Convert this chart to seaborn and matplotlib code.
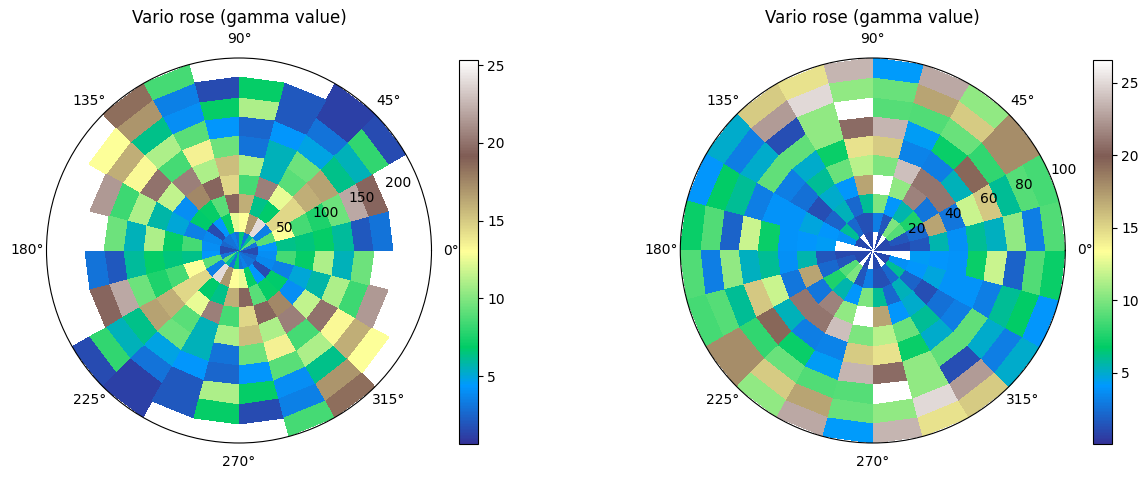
import numpy as np
import pandas as pd
import matplotlib
matplotlib.use("Agg")
import matplotlib.pyplot as plt
from matplotlib.colors import Normalize
import seaborn as sns

nan = float("nan")

# Semivariance per azimuth sector (rows, 15 degree bins from 0 to 180) and lag ring (columns, inner to outer).
gamma_left = [
    [1.5, 4.3, 6.3, 6.5, 7.0, 6.0, 2.0, 3.0, nan, nan],
    [3.0, 9.0, 13.0, 8.5, 7.5, 9.5, 22.0, 19.5, nan, nan],
    [9.0, 3.5, 14.5, 14.5, 16.0, 16.5, 6.3, 5.5, 8.0, 1.5],
    [6.0, 24.0, 6.8, 12.5, 9.0, 9.5, 4.8, 3.0, 1.2, 1.2],
    [3.0, 17.0, 6.3, 20.5, 5.5, 5.5, 4.3, 2.0, 2.0, nan],
    [6.5, 13.0, 16.0, 8.5, 11.0, 3.0, 2.5, 11.0, 7.0, nan],
    [3.0, 12.5, 19.5, 14.5, 15.5, 9.5, 4.3, 7.0, 1.5, nan],
    [3.5, 7.0, 9.0, 19.5, 11.0, 13.5, 9.0, 4.0, 3.5, 8.5],
    [3.0, 4.3, 7.0, 17.5, 20.5, 8.5, 11.0, 6.3, 17.0, 18.5],
    [3.0, 1.5, 6.8, 4.0, 11.5, 20.0, 13.2, 16.0, 13.0, nan],
    [2.5, 3.8, 3.5, 5.0, 5.8, 11.0, 8.3, 21.5, nan, nan],
    [1.5, 4.0, 8.5, 7.0, 11.0, 5.5, 9.5, nan, nan, nan],
]
gamma_right = [
    [1.0, 1.0, 1.5, 5.5, 3.8, 6.0, 5.2, 10.5, 3.0, 8.8],
    [1.0, 1.5, 2.2, 17.0, 2.7, 12.0, 15.6, 6.0, 9.0, 8.5],
    [1.0, 9.0, 7.5, 2.7, 21.0, 5.3, 19.5, 8.0, 18.0, 18.0],
    [26.6, 10.0, 5.5, 21.5, 21.0, 3.0, 7.0, 9.5, 15.5, 10.5],
    [1.0, 1.5, 4.0, 10.5, 24.0, 3.3, 4.3, 8.8, 17.0, 23.0],
    [26.6, 3.0, 10.0, 26.6, 10.0, 15.5, 23.5, 9.0, 9.5, 4.2],
    [1.0, 1.3, 6.0, 17.0, 11.5, 14.5, 20.5, 26.6, 10.5, 23.5],
    [1.0, 1.3, 2.2, 4.0, 9.5, 7.0, 10.5, 10.5, 25.0, 14.5],
    [26.6, 2.2, 5.3, 5.0, 6.0, 5.0, 9.3, 1.2, 22.5, 15.5],
    [1.0, 6.0, 2.0, 1.2, 2.5, 3.0, 9.3, 5.0, 3.0, 5.0],
    [1.0, 3.8, 4.0, 4.7, 3.9, 3.9, 3.0, 6.0, 6.8, 4.0],
    [26.6, 26.6, 4.3, 4.0, 3.9, 7.0, 12.0, 2.0, 8.8, 7.0],
]
lag_left = 24.3
lag_right = 10.0
color_limits_left = (0.63, 25.37)
color_limits_right = (0.1, 26.6)
azimuth_step = 15
plot_title = "Vario rose (gamma value)"

terrain = sns.color_palette("terrain", as_cmap=True)
FIG_W, FIG_H = 1148, 480


def box(left, top, width, height):
    return [left / FIG_W, 1 - (top + height) / FIG_H, width / FIG_W, height / FIG_H]


def draw_rose(half_table, lag, limits, polar_box, bar_box):
    # A variogram is symmetric, so the half circle repeats over 180-360 degrees.
    half = pd.DataFrame(half_table).to_numpy(dtype=float)
    table = np.vstack([half, half])
    theta = np.radians(np.arange(0, 360 + azimuth_step, azimuth_step))
    radius = lag * np.arange(half.shape[1] + 1)

    ax = fig.add_axes(box(*polar_box), projection="polar")
    mesh = ax.pcolormesh(theta, radius, table.T, cmap=terrain,
                         norm=Normalize(*limits), shading="flat")
    ax.set_rlim(0, radius[-1])
    ax.grid(False)
    ax.set_title(plot_title, fontsize=12)

    cax = fig.add_axes(box(*bar_box))
    fig.colorbar(mesh, cax=cax)
    return ax


fig = plt.figure(figsize=(FIG_W / 100, FIG_H / 100), dpi=100)
draw_rose(gamma_left, lag_left, color_limits_left,
          (46.5, 58, 385, 385), (458.5, 59.5, 19, 384.5))
draw_rose(gamma_right, lag_right, color_limits_right,
          (680.3, 58, 385, 385), (1092.5, 59.5, 19, 384.5))
fig.savefig("out.png", dpi=100)
